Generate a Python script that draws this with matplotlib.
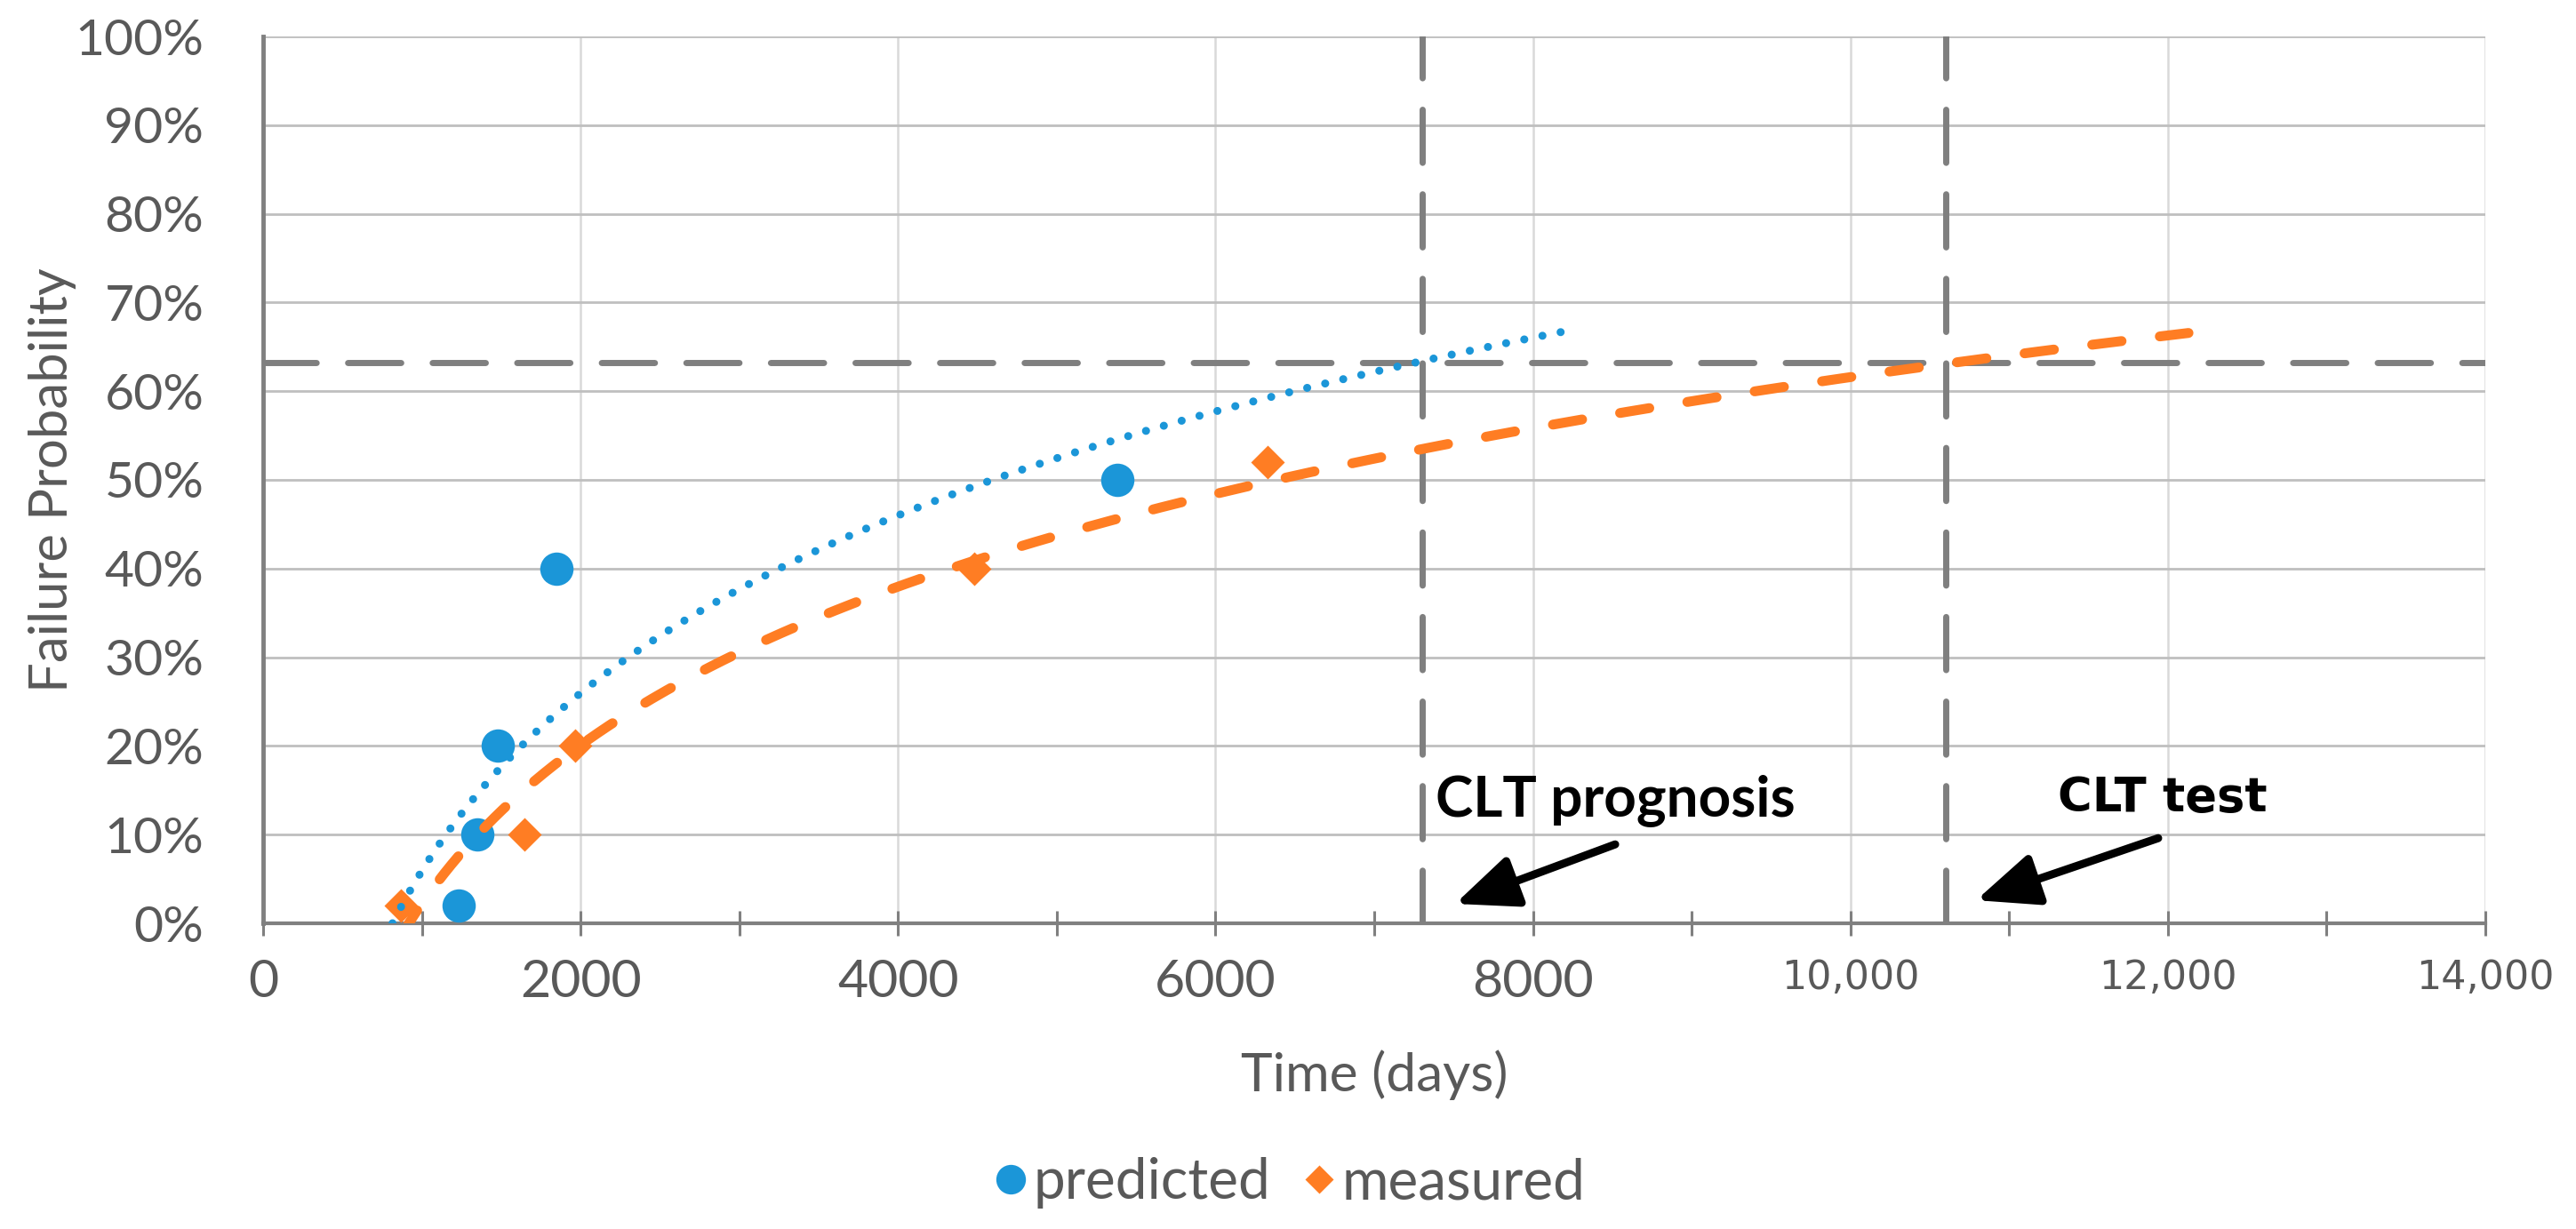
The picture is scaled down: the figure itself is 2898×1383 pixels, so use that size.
import numpy as np
import matplotlib
matplotlib.use("Agg")
import matplotlib.pyplot as plt
from matplotlib.lines import Line2D

# ---------------- data ----------------
pred_days = [1230, 1350, 1480, 1850, 5380]
pred_prob = [0.02, 0.10, 0.20, 0.40, 0.50]
meas_days = [870, 1645, 1966, 4480, 6330]
meas_prob = [0.02, 0.10, 0.20, 0.40, 0.52]
pred_trend_span = [815, 8280]      # logarithmic trendline drawn range (days)
meas_trend_span = [870, 12130]
clt_prognosis_day = 7300
clt_test_day = 10600
char_life_prob = 0.632
x_ticks = [0, 2000, 4000, 6000, 8000, 10000, 12000, 14000]
x_tick_labels = ["0", "2000", "4000", "6000", "8000", "10,000", "12,000", "14,000"]
y_ticks = [0.0, 0.1, 0.2, 0.3, 0.4, 0.5, 0.6, 0.7, 0.8, 0.9, 1.0]
y_tick_labels = ["0%", "10%", "20%", "30%", "40%", "50%", "60%", "70%", "80%", "90%", "100%"]
series_labels = ["predicted", "measured"]

BLUE = "#1B96D8"
ORANGE = "#FF7D23"
GRAY = "#7F7F7F"
TXT = "#595959"
FONT = ["Lato", "DejaVu Sans"]

W, H = 2898, 1383
fig = plt.figure(figsize=(W / 100, H / 100), dpi=100)
L, R, T, B = 296, 2796, 41, 1039
ax = fig.add_axes([L / W, 1 - B / H, (R - L) / W, (B - T) / H])

ax.set_xlim(0, 14000)
ax.set_ylim(0, 1)

# grid
ax.set_axisbelow(True)
ax.set_xticks(x_ticks)
ax.set_xticks(np.arange(1000, 14000, 2000), minor=True)
ax.set_yticks(y_ticks)
ax.yaxis.grid(True, color="#BFBFBF", lw=2.0, zorder=0)
ax.xaxis.grid(True, which="major", color="#D9D9D9", lw=1.8, zorder=0)

for s in ["top", "right"]:
    ax.spines[s].set_visible(False)
ax.spines["left"].set_color("#808080")
ax.spines["left"].set_linewidth(3.5)
ax.spines["bottom"].set_color("#808080")
ax.spines["bottom"].set_linewidth(3.0)

ax.tick_params(axis="x", which="both", direction="inout", length=20, width=2.2,
               color="#808080", pad=19)
ax.tick_params(axis="y", length=0, pad=48)

ax.set_xticklabels(x_tick_labels)
for lab, txt in zip(ax.get_xticklabels(), x_tick_labels):
    if "," in txt:
        lab.set_family("DejaVu Sans")
        lab.set_fontsize(32)
    else:
        lab.set_family(FONT)
        lab.set_fontsize(42.5)
    lab.set_color(TXT)
ax.set_yticklabels(y_tick_labels)
for lab in ax.get_yticklabels():
    lab.set_family(FONT)
    lab.set_fontsize(41)
    lab.set_color(TXT)

# reference dashed lines
dash_gray = (0, (8.6, 5.1))
ax.plot([0, 14000], [char_life_prob, char_life_prob], color=GRAY, lw=5,
        ls=dash_gray, dash_capstyle="round", zorder=2)
for d in [clt_prognosis_day, clt_test_day]:
    ax.plot([d, d], [0, 1], color=GRAY, lw=5, ls=dash_gray,
            dash_capstyle="round", zorder=2)

# markers
ax.plot(pred_days, pred_prob, ls="none", marker="o", ms=27, color=BLUE,
        mec="none", zorder=3)
ax.plot(meas_days, meas_prob, ls="none", marker="D", ms=19, color=ORANGE,
        mec="none", zorder=3)

# logarithmic trendlines (least-squares fit of the data, as in the source chart)
def log_trend(xd, yd, span):
    a, b = np.polyfit(np.log(xd), yd, 1)
    xs = np.linspace(span[0], span[1], 500)
    return xs, a * np.log(xs) + b

xs, ys = log_trend(pred_days, pred_prob, pred_trend_span)
ax.plot(xs, ys, color=BLUE, lw=6.5, ls=(0, (0.01, 2.3)), dash_capstyle="round", zorder=4)
xs, ys = log_trend(meas_days, meas_prob, meas_trend_span)
ax.plot(xs, ys, color=ORANGE, lw=8, ls=(0, (3.0, 3.9)), dash_capstyle="round", zorder=4)

# annotations
ax.text(7385, 0.121, "CLT prognosis", family=FONT, fontweight="bold", fontsize=46,
        color="black", va="baseline", ha="left", zorder=6)
ax.text(11306, 0.126, "CLT test", family="DejaVu Sans", fontweight="bold", fontsize=38,
        color="black", va="baseline", ha="left", zorder=6)
arrow_style = dict(arrowstyle="-|>,head_length=1.7,head_width=0.72", mutation_scale=25,
                   lw=6.5, color="black", shrinkA=0, shrinkB=0)
ax.annotate("", xy=(7510, 0.022), xytext=(8518, 0.089), arrowprops=arrow_style, zorder=6)
ax.annotate("", xy=(10792, 0.026), xytext=(11939, 0.096), arrowprops=arrow_style, zorder=6)

# axis titles
fig.text((L + R) / 2 / W, 1 - 1210 / H, "Time (days)", family=FONT, fontsize=43.5,
         color=TXT, ha="center", va="center")
fig.text(59 / W, 1 - (T + B) / 2 / H, "Failure Probability", family=FONT, fontsize=43,
         color=TXT, ha="center", va="center", rotation=90)

# legend
handles = [Line2D([], [], ls="none", marker="o", ms=24, color=BLUE, mec="none"),
           Line2D([], [], ls="none", marker="D", ms=16, color=ORANGE, mec="none")]
fig.legend(handles, series_labels, loc="center", bbox_to_anchor=(0.5, 1 - 1331 / H),
           ncol=2, frameon=False, prop={"family": FONT, "size": 46}, labelcolor=TXT,
           handletextpad=0.05, columnspacing=0.5, handlelength=0.7)

fig.savefig("out.png", dpi=100)
